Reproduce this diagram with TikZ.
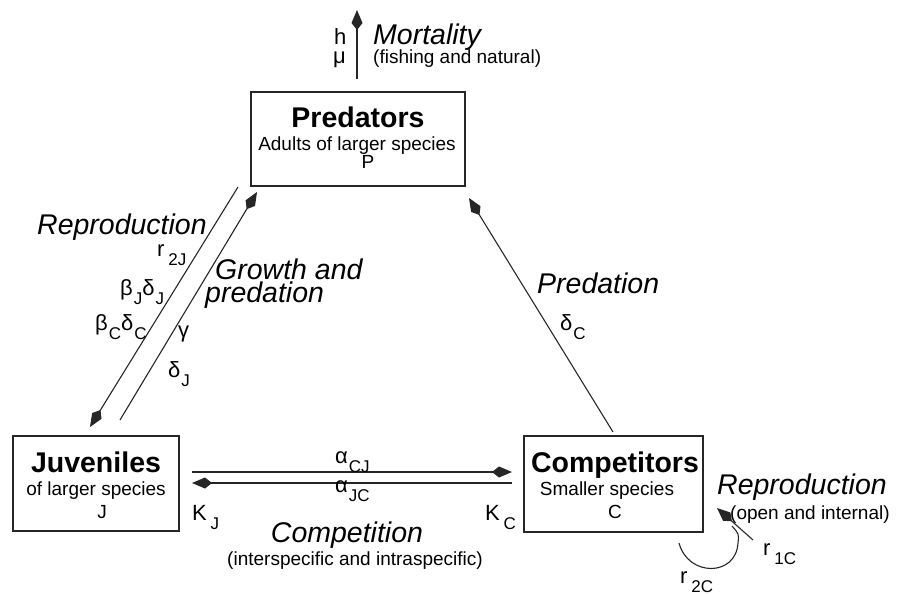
\documentclass[tikz,border=0pt]{standalone}
\usepackage{fontspec}
\setmainfont{Liberation Sans}
\usetikzlibrary{arrows.meta}
\newcommand{\lowsub}[1]{\kern1pt\raisebox{-9pt}{\fontsize{17}{17}\selectfont #1}}

\begin{document}
\begin{tikzpicture}[x=1pt, y=-1pt]

\tikzset{box/.style={draw=black!85, line width=1.3, inner sep=0}}
\tikzset{boxtitle/.style={anchor=base, inner sep=0, font=\fontsize{28.5}{28.5}\selectfont\bfseries}}
\tikzset{boxsub/.style={anchor=base, inner sep=0, font=\fontsize{19}{19}\selectfont}}
\tikzset{flowtext/.style={anchor=base west, inner sep=0, font=\fontsize{28.5}{28.5}\selectfont\itshape}}
\tikzset{remark/.style={anchor=base west, inner sep=0, font=\fontsize{19}{19}\selectfont}}
\tikzset{param/.style={anchor=base west, inner sep=0, font=\fontsize{22}{22}\selectfont}}
\tikzset{link/.style={draw=black!85, line width=1.1}}
\tikzset{flow/.style={link, -{Kite[length=20pt, width=11pt, inset=7pt]}}}

\useasboundingbox (0,0) rectangle (898,594);

% compartments
\node[box, minimum width=214, minimum height=94] (P) at (358,139) {};
\node[box, minimum width=166, minimum height=95] (J) at (96,483.5) {};
\node[box, minimum width=179, minimum height=96] (C) at (613.5,484) {};

\node[boxtitle] (Ptitle) at (358,128) {Predators};
\node[boxsub] (Psub) at (357,150) {Adults of larger species};
\node[boxsub] (Pname) at (368,168) {P};
\node[boxtitle] (Jtitle) at (96,472) {Juveniles};
\node[boxsub] (Jsub) at (96,495) {of larger species};
\node[boxsub] (Jname) at (102,518) {J};
\node[boxtitle] (Ctitle) at (615,472) {Competitors};
\node[boxsub] (Csub) at (607,495) {Smaller species};
\node[boxsub] (Cname) at (615,518) {C};

% arrow ends
\coordinate (mortS) at (357,79);
\coordinate (mortE) at (357,10);
\coordinate (reprS) at (238,187);
\coordinate (reprE) at (90,427);
\coordinate (growS) at (120,420);
\coordinate (growE) at (257,192);
\coordinate (predS) at (613,432);
\coordinate (predE) at (469,198);
\coordinate (compS) at (192,472);
\coordinate (compE) at (512,472);
\coordinate (limS) at (512,483);
\coordinate (limE) at (192,483);
\coordinate (selfS) at (753,540);
\coordinate (selfE) at (717,508);
\coordinate (loopS) at (679,543);
\coordinate (loopE) at (732,526);

\draw[flow] (mortS) -- (mortE);
\draw[flow] (reprS) -- (reprE);
\draw[flow] (growS) -- (growE);
\draw[flow] (predS) -- (predE);
\draw[flow] (compS) -- (compE);
\draw[flow] (limS) -- (limE);
\draw[flow] (selfS) -- (selfE);
\draw[link] (loopS) .. controls (688,577) and (736,577) .. (738,543) .. controls (739,534) .. (loopE);

% mortality
\node[param] (h) at (334,45) {h};
\node[param] (mu) at (333,64) {μ};
\node[flowtext] (mortality) at (373,45) {Mortality};
\node[remark] (fishing) at (373,64) {(fishing and natural)};

% juvenile reproduction and growth
\node[flowtext] (reproJ) at (37,234) {Reproduction};
\node[param] (r2J) at (157,256) {r\lowsub{\,2J}};
\node[param] (betaJ) at (120,295) {β\lowsub{J}δ\lowsub{J}};
\node[param] (betaC) at (95,330) {β\lowsub{C}δ\lowsub{C}};
\node[flowtext] (growth) at (215,279) {Growth and};
\node[flowtext] (growthb) at (205,302) {predation};
\node[param] (gamma) at (178,337) {γ};
\node[param] (deltaJ) at (168,377) {δ\lowsub{J}};

% predation
\node[flowtext] (predation) at (537,293) {Predation};
\node[param] (deltaC) at (560,330) {δ\lowsub{C}};

% competition
\node[param] (aCJ) at (335,463) {α\lowsub{CJ}};
\node[param] (aJC) at (335,492) {α\lowsub{JC}};
\node[param] (KJ) at (192,520) {K\lowsub{\,J}};
\node[param] (KC) at (485,520) {K\lowsub{\,C}};
\node[flowtext, anchor=base] (competition) at (347,542) {Competition};
\node[remark, anchor=base] (inter) at (355,565) {(interspecific and intraspecific)};

% competitor reproduction
\node[flowtext] (reproC) at (717,494) {Reproduction};
\node[remark] (open) at (730,519) {(open and internal)};
\node[param] (r1C) at (763,555) {r\lowsub{\,1C}};
\node[param] (r2C) at (680,583) {r\lowsub{\,2C}};

\end{tikzpicture}
\end{document}
